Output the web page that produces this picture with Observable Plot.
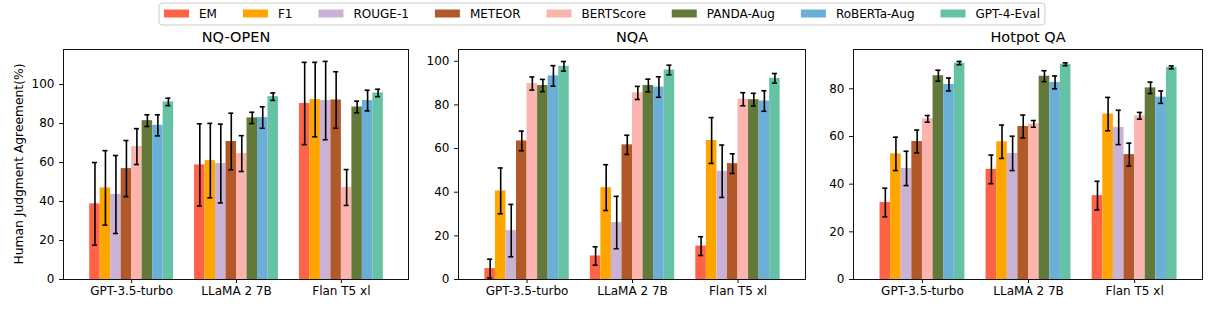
<!DOCTYPE html>
<html>
<head>
<meta charset="utf-8">
<script src="https://cdn.jsdelivr.net/npm/d3@7"></script>
<script src="https://cdn.jsdelivr.net/npm/@observablehq/plot@0.6"></script>
<style>
  html, body { margin: 0; padding: 0; background: white; }
  #wrap { position: relative; width: 1215px; height: 324px; overflow: hidden; font-family: "DejaVu Sans", sans-serif; }
  #wrap > svg, #wrap > div { position: absolute; top: 0; }
</style>
</head>
<body>
<div id="wrap"></div>
<script>
// ---------- data ----------
const metrics = ["EM", "F1", "ROUGE-1", "METEOR", "BERTScore", "PANDA-Aug", "RoBERTa-Aug", "GPT-4-Eval"];
const metricColors = ["#ff6347", "#ffa500", "#cab2d6", "#b15928", "#fbb4ae", "#637939", "#6baed6", "#66c2a5"];
const models = ["GPT-3.5-turbo", "LLaMA 2 7B", "Flan T5 xl"];
const panelTitles = ["NQ-OPEN", "NQA", "Hotpot QA"];
const yAxisLabel = "Human Judgment Agreement(%)";

// rows = models, columns = metrics
const nqOpenMeans = [
  [38.8, 47.0, 43.6, 56.9, 68.2, 81.5, 79.1, 91.1],
  [58.8, 61.0, 59.5, 70.8, 64.6, 82.9, 83.1, 93.8],
  [90.3, 92.3, 91.8, 92.1, 47.2, 88.5, 91.8, 95.7]
];
const nqOpenErrors = [
  [21.2, 19.1, 20.0, 14.4, 9.2, 3.0, 5.4, 1.9],
  [21.1, 19.1, 20.2, 14.5, 9.2, 2.9, 5.5, 1.9],
  [21.1, 19.1, 20.1, 14.5, 9.2, 3.0, 5.3, 1.9]
];
const nqaMeans = [
  [5.0, 40.6, 22.4, 63.5, 89.8, 88.9, 93.3, 97.7],
  [10.8, 42.1, 26.1, 61.7, 85.5, 88.9, 88.2, 96.0],
  [15.3, 63.7, 49.6, 53.1, 82.6, 82.4, 81.8, 92.2]
];
const nqaErrors = [
  [4.3, 10.5, 12.0, 4.5, 3.0, 2.8, 4.7, 2.2],
  [4.2, 10.5, 12.0, 4.4, 3.0, 2.9, 4.7, 2.2],
  [4.3, 10.5, 12.0, 4.5, 3.0, 2.9, 4.7, 2.2]
];
const hotpotMeans = [
  [32.3, 52.7, 46.6, 57.9, 67.4, 85.5, 81.8, 90.8],
  [46.2, 57.8, 52.9, 64.2, 65.3, 85.3, 82.7, 90.3],
  [35.2, 69.4, 63.8, 52.4, 68.7, 80.4, 76.5, 89.0]
];
const hotpotErrors = [
  [6.0, 7.0, 7.2, 4.8, 1.4, 2.3, 2.7, 0.7],
  [6.0, 7.0, 7.2, 4.8, 1.4, 2.3, 2.7, 0.6],
  [6.0, 7.0, 7.2, 4.8, 1.4, 2.4, 2.6, 0.6]
];
const nqOpenTicks = [0, 20, 40, 60, 80, 100];
const nqaTicks = [0, 20, 40, 60, 80, 100];
const hotpotTicks = [0, 20, 40, 60, 80];

// ---------- layout ----------
const FONT = "DejaVu Sans";
const barW = 0.1;
const capHalf = 0.024;
const panels = [
  {title: panelTitles[0], means: nqOpenMeans, errs: nqOpenErrors, ticks: nqOpenTicks, yMax: 118,   left: 0,   width: 420, ml: 63, mr: 12},
  {title: panelTitles[1], means: nqaMeans,    errs: nqaErrors,    ticks: nqaTicks,    yMax: 105.4, left: 410, width: 405, ml: 48, mr: 10},
  {title: panelTitles[2], means: hotpotMeans, errs: hotpotErrors, ticks: hotpotTicks, yMax: 96.5,  left: 815, width: 400, ml: 38, mr: 13}
];

const wrap = document.getElementById("wrap");

for (const p of panels) {
  const rows = [];
  models.forEach((m, i) => metrics.forEach((k, j) => {
    rows.push({model: m, metric: k, x: i + (j - 3.5) * barW, value: p.means[i][j], err: p.errs[i][j]});
  }));
  const caps = rows.flatMap(d => [{x: d.x, v: d.value - d.err}, {x: d.x, v: d.value + d.err}]);

  const chart = Plot.plot({
    width: p.width,
    height: 324,
    marginLeft: p.ml,
    marginRight: p.mr,
    marginTop: 49,
    marginBottom: 45,
    style: {fontFamily: FONT, fontSize: "12px", background: "transparent", color: "black", overflow: "visible"},
    x: {domain: [-0.65, 2.64], axis: null},
    y: {domain: [0, p.yMax], axis: null},
    color: {domain: metrics, range: metricColors},
    marks: [
      Plot.rectY(rows, {x1: d => d.x - barW / 2, x2: d => d.x + barW / 2, y1: 0, y2: "value", fill: "metric"}),
      Plot.ruleX(rows, {x: "x", y1: d => d.value - d.err, y2: d => d.value + d.err, stroke: "black", strokeWidth: 1.6}),
      Plot.ruleY(caps, {y: "v", x1: d => d.x - capHalf, x2: d => d.x + capHalf, stroke: "black", strokeWidth: 1.6}),
      Plot.frame({stroke: "#111", strokeWidth: 1}),
      Plot.axisY(p.ticks, {tickSize: 4, tickPadding: 5, fontSize: 12, label: null, stroke: "#111"}),
      Plot.axisX([0, 1, 2], {tickFormat: i => models[i], tickSize: 4, tickPadding: 3, fontSize: 12, label: null, stroke: "#111"}),
      Plot.text([p.title], {text: d => d, frameAnchor: "top", dy: -12, lineAnchor: "middle", fontSize: 14.5, fill: "black"})
    ]
  });
  chart.style.position = "absolute";
  chart.style.left = p.left + "px";
  chart.style.top = "0px";
  chart.style.maxWidth = "none";
  wrap.appendChild(chart);
}

// ---------- legend + y label overlay ----------
const overlay = d3.select(wrap).append("svg")
  .attr("width", 1215).attr("height", 324)
  .style("position", "absolute").style("left", "0px").style("top", "0px")
  .style("pointer-events", "none")
  .style("font-family", FONT);

overlay.append("text")
  .attr("transform", "translate(19,164) rotate(-90)")
  .attr("text-anchor", "middle")
  .attr("dominant-baseline", "central")
  .attr("font-size", 12.3)
  .attr("fill", "black")
  .text(yAxisLabel);

const legBox = overlay.append("rect")
  .attr("y", 3).attr("height", 22).attr("rx", 3)
  .attr("fill", "white").attr("fill-opacity", 0.9)
  .attr("stroke", "#cccccc").attr("stroke-width", 1);

let lx = 164;
const swW = 25, swH = 8, gapText = 10, gapItem = 26, ly = 13.5;
metrics.forEach((k, j) => {
  overlay.append("rect")
    .attr("x", lx).attr("y", ly - swH / 2).attr("width", swW).attr("height", swH)
    .attr("fill", metricColors[j]);
  const t = overlay.append("text")
    .attr("x", lx + swW + gapText).attr("y", ly)
    .attr("dominant-baseline", "central")
    .attr("font-size", 12).attr("fill", "black")
    .text(k);
  const w = t.node().getComputedTextLength();
  lx = lx + swW + gapText + w + (j < metrics.length - 1 ? gapItem : 0);
});
legBox.attr("x", 159).attr("width", lx + 5 - 159);
</script>
</body>
</html>
